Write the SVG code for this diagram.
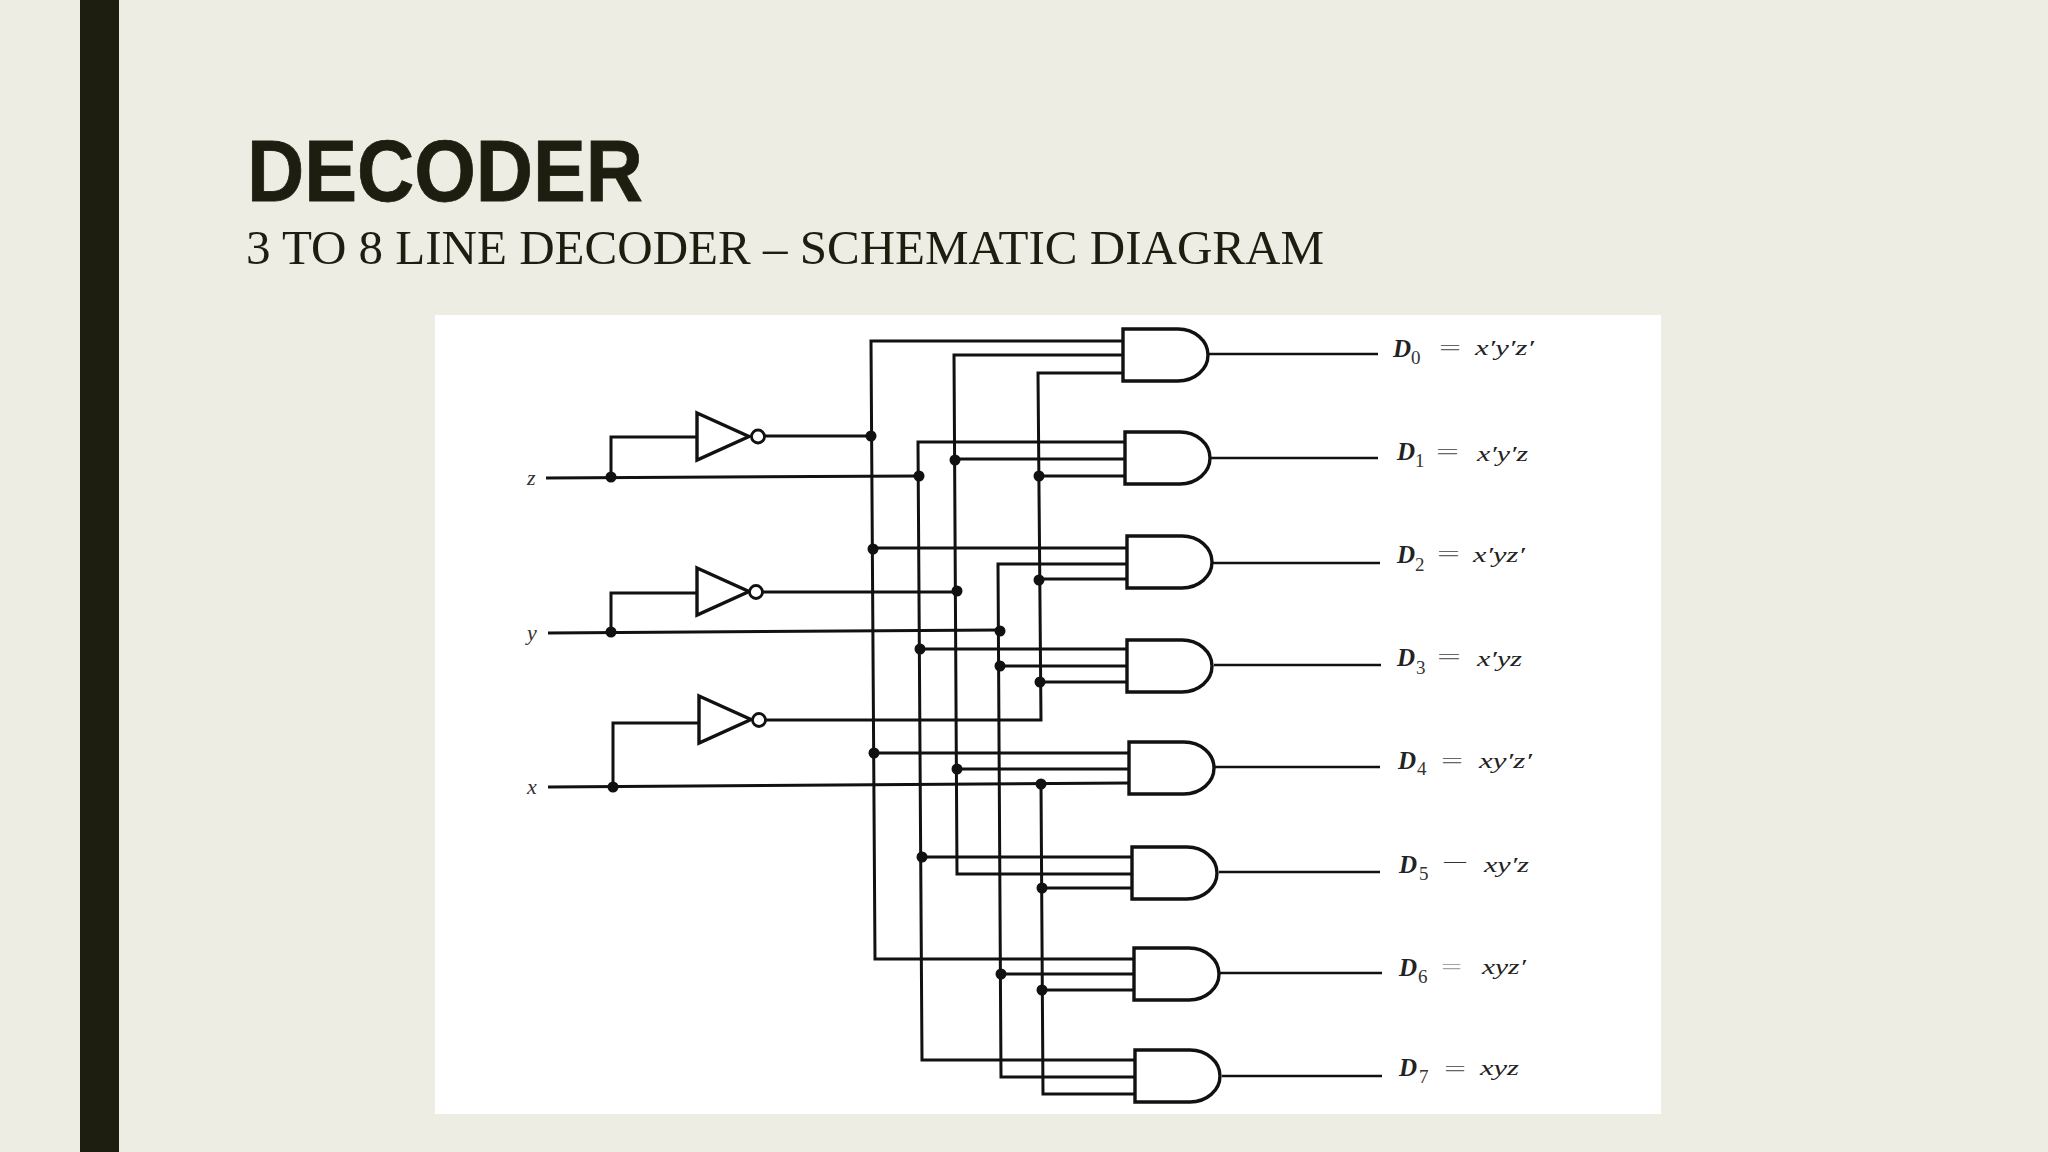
<svg xmlns="http://www.w3.org/2000/svg" width="2048" height="1152" viewBox="0 0 2048 1152">
<style>
.w{fill:none;stroke:#111;stroke-width:3;stroke-linejoin:miter}
.o{stroke-width:2.6}
.g{fill:#fff;stroke:#111;stroke-width:3.4}
.b{fill:#fff;stroke:#111;stroke-width:2.8}
.j{fill:#111}
.t{font-family:"Liberation Serif",serif;fill:#222}
.D{font-style:italic;font-weight:bold;font-size:25px}
.s{font-size:19px;fill:#333}
.e{font-size:20px;fill:#666}
.x{font-style:italic;font-size:22px}
.i{font-style:italic;font-size:22px;fill:#333}
</style>
<defs>
<path id="and" class="g" d="M0 0H55A30 26 0 0 1 55 52H0Z"/>
<path id="not" class="g" d="M0 0L52 23.500L0 47Z"/>
</defs>
<rect id="background" width="2048" height="1152" fill="#edede3"/>
<rect id="side-bar" x="80" width="39" height="1152" fill="#1d1d10"/>
<text id="title" x="247" y="201" font-family="'Liberation Sans',sans-serif" font-weight="bold" font-size="88" fill="#1d1d10" textLength="396" lengthAdjust="spacingAndGlyphs" stroke="#1d1d10" stroke-width="0.8">DECODER</text>
<text id="subtitle" x="246" y="264" font-family="'Liberation Serif',serif" font-size="48" fill="#1d1d10" textLength="1078" lengthAdjust="spacingAndGlyphs">3 TO 8 LINE DECODER – SCHEMATIC DIAGRAM</text>
<rect id="schematic" x="435" y="315" width="1226" height="799" fill="#fff"/>
<g id="connectors">
<path class="w" d="M546 478L919 476M611 477V437H697M765 436H871"/>
<path class="w" d="M548 633L1000 630M611 632V593H697M762 592H957"/>
<path class="w" d="M548 787L1129 783M613 787V723H699M765 720H1041L1038 373H1123"/>
<path class="w" d="M1123 341H871L875 959H1134"/>
<path class="w" d="M1123 355H954L957 874H1132"/>
<path class="w" d="M1125 442H918L922 1060H1135"/>
<path class="w" d="M1127 564H998L1001 1077H1135"/>
<path class="w" d="M1041 784L1043 1094H1135"/>
<path class="w" d="M955 459H1125M1039 476H1125M873 548H1127M1039 579H1127M920 649H1127M1000 666H1127M1040 682H1127M874 753H1129M957 769H1129M922 857H1132M1042 888H1132M1001 974H1134M1042 990H1134"/>
<path class="w o" d="M1208 354H1378M1211 458H1378M1213 563H1380M1214 665H1381M1215 767H1380M1219 872H1380M1220 973H1382M1222 1076H1382"/>
<g class="j">
<circle cx="611" cy="477" r="5.500"/><circle cx="611" cy="632" r="5.500"/><circle cx="613" cy="787" r="5.500"/>
<circle cx="871" cy="436" r="5.500"/><circle cx="873" cy="549" r="5.500"/><circle cx="874" cy="753" r="5.500"/>
<circle cx="919" cy="476" r="5.500"/><circle cx="920" cy="649" r="5.500"/><circle cx="922" cy="857" r="5.500"/>
<circle cx="955" cy="460" r="5.500"/><circle cx="957" cy="591" r="5.500"/><circle cx="957" cy="769" r="5.500"/>
<circle cx="1000" cy="631" r="5.500"/><circle cx="1000" cy="666" r="5.500"/><circle cx="1001" cy="974" r="5.500"/>
<circle cx="1039" cy="476" r="5.500"/><circle cx="1039" cy="580" r="5.500"/><circle cx="1040" cy="682" r="5.500"/>
<circle cx="1041" cy="784" r="5.500"/><circle cx="1042" cy="888" r="5.500"/><circle cx="1042" cy="990" r="5.500"/>
</g>
</g>
<g id="input-z"><text class="t i" x="527" y="485">z</text></g>
<g id="input-y"><text class="t i" x="527" y="640">y</text></g>
<g id="input-x"><text class="t i" x="527" y="794">x</text></g>
<g id="not-z"><use href="#not" x="697" y="413"/><circle class="b" cx="758" cy="436.500" r="6.500"/></g>
<g id="not-y"><use href="#not" x="697" y="568"/><circle class="b" cx="756" cy="592" r="6.500"/></g>
<g id="not-x"><use href="#not" x="699" y="696"/><circle class="b" cx="759" cy="720" r="6.500"/></g>
<g id="gate-d0"><use href="#and" x="1123" y="329"/><text class="t D" x="1393" y="357">D</text><text class="t s" x="1411" y="364">0</text><text class="t e" x="1439" y="354.500" textLength="22" lengthAdjust="spacingAndGlyphs">=</text><text class="t x" x="1475" y="355" textLength="59" lengthAdjust="spacingAndGlyphs">x′y′z′</text></g>
<g id="gate-d1"><use href="#and" x="1125" y="432"/><text class="t D" x="1397" y="460">D</text><text class="t s" x="1415" y="467">1</text><text class="t e" x="1436" y="458.500" textLength="23" lengthAdjust="spacingAndGlyphs">=</text><text class="t x" x="1477" y="461" textLength="51" lengthAdjust="spacingAndGlyphs">x′y′z</text></g>
<g id="gate-d2"><use href="#and" x="1127" y="536"/><text class="t D" x="1397" y="563">D</text><text class="t s" x="1415" y="571">2</text><text class="t e" x="1437" y="560.500" textLength="23" lengthAdjust="spacingAndGlyphs">=</text><text class="t x" x="1473" y="562" textLength="52" lengthAdjust="spacingAndGlyphs">x′yz′</text></g>
<g id="gate-d3"><use href="#and" x="1127" y="640"/><text class="t D" x="1397" y="666">D</text><text class="t s" x="1416" y="674">3</text><text class="t e" x="1437" y="663.500" textLength="24" lengthAdjust="spacingAndGlyphs">=</text><text class="t x" x="1477" y="666" textLength="45" lengthAdjust="spacingAndGlyphs">x′yz</text></g>
<g id="gate-d4"><use href="#and" x="1129" y="742"/><text class="t D" x="1398" y="769">D</text><text class="t s" x="1417" y="775">4</text><text class="t e" x="1441" y="767.500" textLength="22" lengthAdjust="spacingAndGlyphs">=</text><text class="t x" x="1479" y="768" textLength="53" lengthAdjust="spacingAndGlyphs">xy′z′</text></g>
<g id="gate-d5"><use href="#and" x="1132" y="847"/><text class="t D" x="1399" y="873">D</text><text class="t s" x="1419" y="880">5</text><text class="t e" x="1444" y="867.500" textLength="22" lengthAdjust="spacingAndGlyphs" font-size="22" style="fill:#333">—</text><text class="t x" x="1484" y="872" textLength="45" lengthAdjust="spacingAndGlyphs">xy′z</text></g>
<g id="gate-d6"><use href="#and" x="1134" y="948"/><text class="t D" x="1399" y="976">D</text><text class="t s" x="1418" y="983">6</text><text class="t e" x="1441" y="973.500" textLength="21" lengthAdjust="spacingAndGlyphs" fill-opacity="0.6">=</text><text class="t x" x="1482" y="974" textLength="44" lengthAdjust="spacingAndGlyphs">xyz′</text></g>
<g id="gate-d7"><use href="#and" x="1135" y="1050"/><text class="t D" x="1399" y="1076">D</text><text class="t s" x="1419" y="1083">7</text><text class="t e" x="1444" y="1075.500" textLength="22" lengthAdjust="spacingAndGlyphs">=</text><text class="t x" x="1480" y="1075" textLength="39" lengthAdjust="spacingAndGlyphs">xyz</text></g>
</svg>
